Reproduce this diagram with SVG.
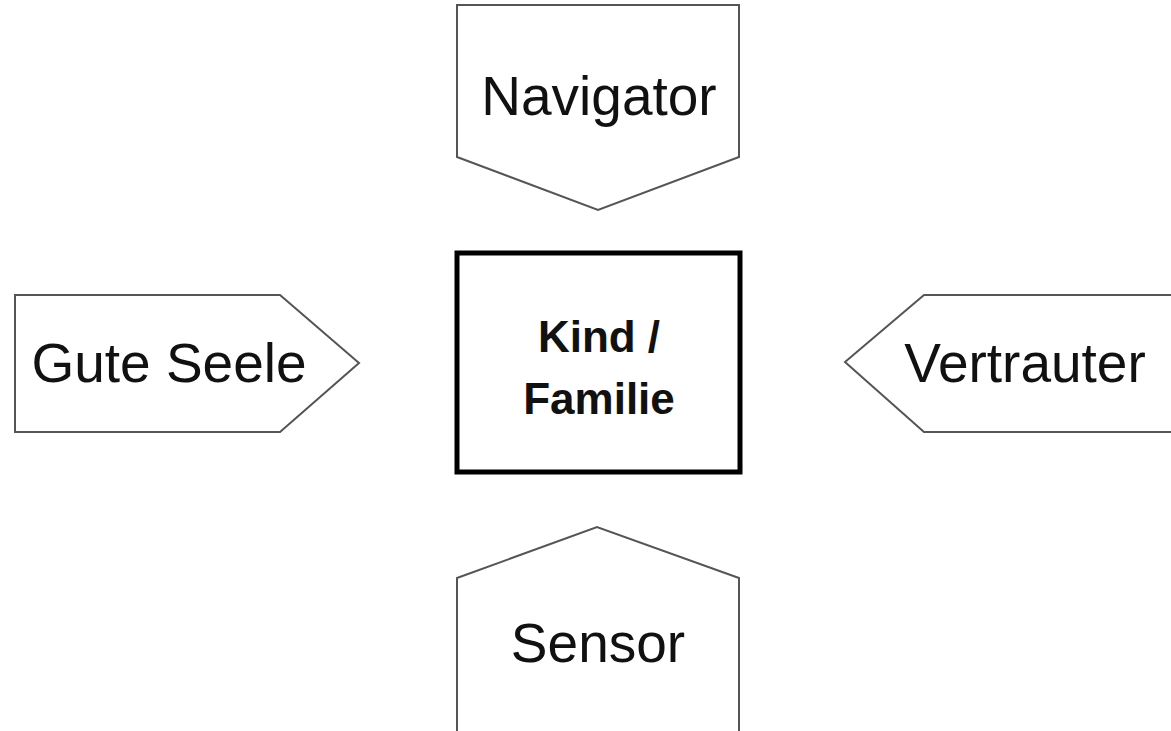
<svg xmlns="http://www.w3.org/2000/svg" width="1171" height="731" viewBox="0 0 1171 731">
  <style>
    .role { fill: #ffffff; stroke: #555555; stroke-width: 2; stroke-linejoin: miter; }
    .core { fill: #ffffff; stroke: #000000; stroke-width: 5; }
    .lbl { font-family: "Liberation Sans", Arial, sans-serif; font-size: 55px; fill: #111111; text-anchor: middle; }
    .lbl-b { font-family: "Liberation Sans", Arial, sans-serif; font-size: 44px; font-weight: bold; fill: #111111; text-anchor: middle; }
  </style>
  <rect width="1171" height="731" fill="#ffffff"/>

  <g id="connectors"></g>

  <!-- Navigator: pentagon pointing down -->
  <g id="navigator">
    <polygon class="role" points="457,5 739,5 739,157 598,210 457,157"/>
    <text class="lbl" x="599" y="115">Navigator</text>
  </g>

  <!-- Gute Seele: pentagon pointing right -->
  <g id="gute-seele">
    <polygon class="role" points="15,295 280,295 359,363 280,432 15,432"/>
    <text class="lbl" x="169" y="382">Gute Seele</text>
  </g>

  <!-- Vertrauter: pentagon pointing left, runs off the right edge -->
  <g id="vertrauter">
    <polygon class="role" points="845,362 924,295 1180,295 1180,432 924,432"/>
    <text class="lbl" x="1025" y="382">Vertrauter</text>
  </g>

  <!-- Kind / Familie: central bold box -->
  <g id="kind-familie">
    <rect class="core" x="457" y="253" width="283" height="219"/>
    <text class="lbl-b" x="599" y="352">Kind /</text>
    <text class="lbl-b" x="599" y="414">Familie</text>
  </g>

  <!-- Sensor: pentagon pointing up, runs off the bottom edge -->
  <g id="sensor">
    <polygon class="role" points="457,578 597,527 739,578 739,740 457,740"/>
    <text class="lbl" x="598" y="662">Sensor</text>
  </g>
</svg>
